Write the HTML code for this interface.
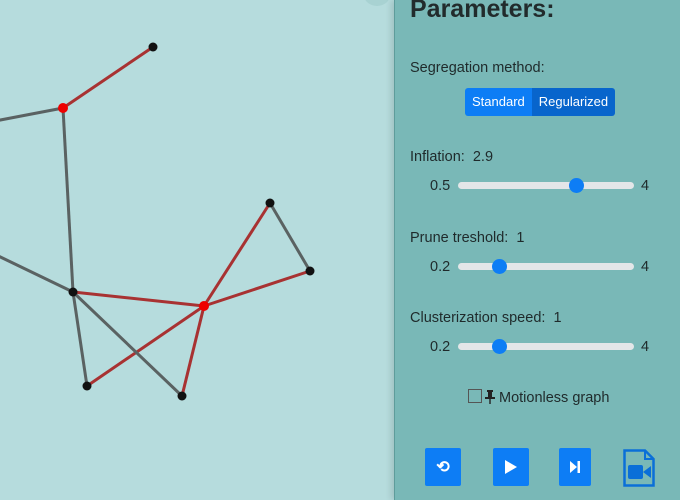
<!DOCTYPE html>
<html><head><meta charset="utf-8"><style>
body{margin:0;width:680px;height:500px;overflow:hidden;background:#b6dcdd;font-family:"Liberation Sans",sans-serif;position:relative}
#panel{position:absolute;left:394px;top:0;width:286px;height:500px;background:#79b8b7;border-left:1.5px solid #5e9c9b;box-shadow:-3px 0 6px rgba(0,0,0,0.12);color:#1f2a2b}
.t{position:absolute;white-space:nowrap}
.lbl{font-size:14.5px}
.track{position:absolute;left:63px;width:176px;height:7px;border-radius:4px;background:#e3e6e8}
.thumb{position:absolute;width:15px;height:15px;border-radius:50%;background:#0d7df5;top:-4px}
.btn{position:absolute;top:448px;width:36px;height:38px;background:#0d7df5;border-radius:2px;display:flex;align-items:center;justify-content:center}
</style></head><body>
<svg id="graph" width="394" height="500" style="position:absolute;left:0;top:0"></svg>
<div style="position:absolute;left:364px;top:-16px;width:26px;height:22px;border-radius:50%;background:#a8d2d2"></div>
<div id="panel">
<div class="t" style="left:15px;top:-5px;font-size:25px;font-weight:bold;color:#222b2c">Parameters:</div>
<div class="t lbl" style="left:15px;top:60px">Segregation method:</div>
<div class="t" style="left:70px;top:88px;height:28px;display:flex;font-size:13px;color:#fff;border-radius:3px;overflow:hidden">
<div style="background:#0d7df5;padding:0 7px;line-height:28px">Standard</div>
<div style="background:#0865cc;padding:0 7px;line-height:28px">Regularized</div></div>
<div class="t lbl" style="left:15px;top:149px">Inflation:&nbsp; 2.9</div>
<div class="t lbl" style="left:35px;top:178px">0.5</div><div class="t lbl" style="left:246px;top:178px">4</div>
<div class="track" style="top:182px"><div class="thumb" style="left:111px"></div></div>
<div class="t lbl" style="left:15px;top:230px">Prune treshold:&nbsp; 1</div>
<div class="t lbl" style="left:35px;top:259px">0.2</div><div class="t lbl" style="left:246px;top:259px">4</div>
<div class="track" style="top:263px"><div class="thumb" style="left:34px"></div></div>
<div class="t lbl" style="left:15px;top:310px">Clusterization speed:&nbsp; 1</div>
<div class="t lbl" style="left:35px;top:339px">0.2</div><div class="t lbl" style="left:246px;top:339px">4</div>
<div class="track" style="top:343px"><div class="thumb" style="left:34px"></div></div>
<div class="t" style="left:73px;top:389px;width:12px;height:12px;border:1.5px solid #555;background:#79b8b7"></div>
<svg class="t" style="left:90px;top:390px" width="10" height="14"><rect x="2" y="0" width="6" height="2" fill="#222"/><rect x="3" y="2" width="4" height="5" fill="#222"/><rect x="0" y="7" width="10" height="2" fill="#222"/><rect x="4.3" y="9" width="1.4" height="5" fill="#222"/></svg>
<div class="t lbl" style="left:104px;top:390px">Motionless graph</div>
<div class="btn" style="left:30px"><span style="color:#fff;font-size:16px;font-weight:bold">⟲</span></div>
<div class="btn" style="left:98px"><svg width="14" height="14"><polygon points="1,0 13,7 1,14" fill="#fff"/></svg></div>
<div class="btn" style="left:164px;width:32px"><svg width="12" height="12"><polygon points="1,0 8,6 1,12" fill="#fff"/><rect x="8.5" y="0" width="2.5" height="12" fill="#fff"/></svg></div>
<svg style="position:absolute;left:228px;top:449px" width="32" height="38"><path d="M1.5 1.5H22L30.5 10V36.5H1.5Z" fill="none" stroke="#0a6fd8" stroke-width="2.5"/><path d="M22 1.5V10H30.5" fill="none" stroke="#0a6fd8" stroke-width="2"/><rect x="5" y="16" width="15" height="14" rx="2" fill="#0a6fd8"/><polygon points="20,23 28,17 28,29" fill="#0a6fd8"/></svg>
</div>
<script>
const nodeX=[153,63,-10,73,-10,204,270,310,87,182];
const nodeY=[47,108,122,292,252,306,203,271,386,396];
const nodeRed=[0,1,0,0,0,1,0,0,0,0];
const edgeFrom=[0,3,5,5,5,5,2,1,4,3,3,6];
const edgeTo=[1,5,6,7,8,9,1,3,3,8,9,7];
const edgeRed=[1,1,1,1,1,1,0,0,0,0,0,0];
const svg=document.getElementById('graph');const ns='http://www.w3.org/2000/svg';
for(let i=0;i<edgeFrom.length;i++){const l=document.createElementNS(ns,'line');
l.setAttribute('x1',nodeX[edgeFrom[i]]);l.setAttribute('y1',nodeY[edgeFrom[i]]);
l.setAttribute('x2',nodeX[edgeTo[i]]);l.setAttribute('y2',nodeY[edgeTo[i]]);
l.setAttribute('stroke',edgeRed[i]?'#a83232':'#5a6262');l.setAttribute('stroke-width','3');


svg.appendChild(l);}
for(let i=0;i<nodeX.length;i++){const c=document.createElementNS(ns,'circle');
c.setAttribute('cx',nodeX[i]);c.setAttribute('cy',nodeY[i]);c.setAttribute('r',nodeRed[i]?5:4.5);
c.setAttribute('fill',nodeRed[i]?'#e00':'#111');


svg.appendChild(c);}
</script>
</body></html>
